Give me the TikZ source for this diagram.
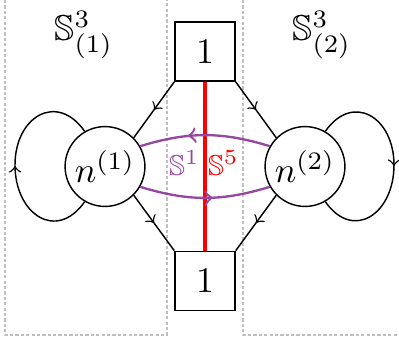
\documentclass[tikz,border=0pt]{standalone}
\usepackage{amssymb}
\usetikzlibrary{decorations.markings}
\definecolor{loopviolet}{RGB}{150,72,160}
\begin{document}
\begin{tikzpicture}[x=0.278pt, y=0.278pt, >=to,
    nodebox/.style={draw, thin, rectangle, minimum width=16.7pt, minimum height=16.5pt, inner sep=0pt},
    vertex/.style={draw, thin, circle, minimum size=22.2pt, inner sep=0pt},
    divider/.style={gray!50, line width=0.3pt, dash pattern=on 0.9pt off 0.6pt},
    flowline/.style={thin, postaction={decorate}, decoration={markings, mark=at position #1 with {\arrow{>}}}},
    flowline/.default=0.5,
    twist/.style={loopviolet, line width=0.65pt, postaction={decorate}, decoration={markings, mark=at position #1 with {\arrow{>}}}}]
  \useasboundingbox (0,0) rectangle (399,347);
  % the two three-spheres
  \draw[divider] (5,347) -- (5,12) -- (167,12) -- (167,347);
  \draw[divider] (243,347) -- (243,12) -- (399,12);
  \node (lbl1) at (84,312) {$\mathbb{S}^3_{(1)}$};
  \node (lbl2) at (322,312) {$\mathbb{S}^3_{(2)}$};
  % nodes
  \node[nodebox] (top) at (205,295.5) {1};
  \node[nodebox] (bot) at (205,66) {1};
  \node[vertex] (n1) at (105,180.5) {$n^{(1)}$};
  \node[vertex] (n2) at (305,180.5) {$n^{(2)}$};
  \coordinate (lft) at (15,182);
  \coordinate (rgt) at (394,182);
  % edges
  \draw[flowline] (top.south west) -- (n1.45);
  \draw[flowline] (top.south east) -- (n2.135);
  \draw[flowline] (n1.-45) -- (bot.north west);
  \draw[flowline] (n2.-135) -- (bot.north east);
  \draw[flowline] (n1.240) to[out=235, in=270, looseness=1.6] (lft) to[out=90, in=125, looseness=1.6] (n1.120);
  \draw[flowline] (n2.60) to[out=55, in=90, looseness=1.6] (rgt) to[out=270, in=-55, looseness=1.6] (n2.-60);
  % the S^1 fibre and the S^5
  \draw[red, line width=1pt] (top.south) -- (bot.north);
  \draw[twist=0.63] (n2.150) to[bend right=17] (n1.30);
  \draw[twist=0.56] (n1.-30) to[bend right=17] (n2.-150);
  \node[loopviolet, font=\footnotesize] (s1) at (184.5,184) {$\mathbb{S}^1$};
  \node[red, font=\footnotesize] (s5) at (223.5,184) {$\mathbb{S}^5$};
\end{tikzpicture}
\end{document}
